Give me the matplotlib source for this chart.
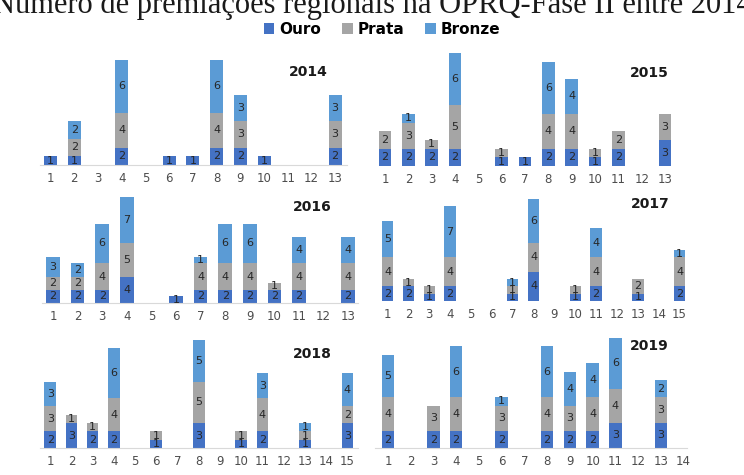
import numpy as np
import matplotlib.pyplot as plt

# Dados (Ouro, Prata, Bronze por região)
anos = ['2014', '2015', '2016', '2017', '2018', '2019']
n_regioes = [13, 13, 13, 15, 15, 14]

ouro_2014 = [1, 1, 0, 2, 0, 1, 1, 2, 2, 1, 0, 0, 2]
prata_2014 = [0, 2, 0, 4, 0, 0, 0, 4, 3, 0, 0, 0, 3]
bronze_2014 = [0, 2, 0, 6, 0, 0, 0, 6, 3, 0, 0, 0, 3]

ouro_2015 = [2, 2, 2, 2, 0, 1, 1, 2, 2, 1, 2, 0, 3]
prata_2015 = [2, 3, 1, 5, 0, 1, 0, 4, 4, 1, 2, 0, 3]
bronze_2015 = [0, 1, 0, 6, 0, 0, 0, 6, 4, 0, 0, 0, 0]

ouro_2016 = [2, 2, 2, 4, 0, 1, 2, 2, 2, 2, 2, 0, 2]
prata_2016 = [2, 2, 4, 5, 0, 0, 4, 4, 4, 1, 4, 0, 4]
bronze_2016 = [3, 2, 6, 7, 0, 0, 1, 6, 6, 0, 4, 0, 4]

ouro_2017 = [2, 2, 1, 2, 0, 0, 1, 4, 0, 1, 2, 0, 1, 0, 2]
prata_2017 = [4, 1, 1, 4, 0, 0, 1, 4, 0, 1, 4, 0, 2, 0, 4]
bronze_2017 = [5, 0, 0, 7, 0, 0, 1, 6, 0, 0, 4, 0, 0, 0, 1]

ouro_2018 = [2, 3, 2, 2, 0, 1, 0, 3, 0, 1, 2, 0, 1, 0, 3]
prata_2018 = [3, 1, 1, 4, 0, 1, 0, 5, 0, 1, 4, 0, 1, 0, 2]
bronze_2018 = [3, 0, 0, 6, 0, 0, 0, 5, 0, 0, 3, 0, 1, 0, 4]

ouro_2019 = [2, 0, 2, 2, 0, 2, 0, 2, 2, 2, 3, 0, 3, 0]
prata_2019 = [4, 0, 3, 4, 0, 3, 0, 4, 3, 4, 4, 0, 3, 0]
bronze_2019 = [5, 0, 0, 6, 0, 1, 0, 6, 4, 4, 6, 0, 2, 0]

ouro = [ouro_2014, ouro_2015, ouro_2016, ouro_2017, ouro_2018, ouro_2019]
prata = [prata_2014, prata_2015, prata_2016, prata_2017, prata_2018, prata_2019]
bronze = [bronze_2014, bronze_2015, bronze_2016, bronze_2017, bronze_2018, bronze_2019]

cores = {'Ouro': '#4472C4', 'Prata': '#A5A5A5', 'Bronze': '#5B9BD5'}

W, H = 744, 475
fig = plt.figure(figsize=(W / 100, H / 100), dpi=100)

# posição de cada painel em pixels: esquerda, direita, base, topo, ymax, xlim, linha do eixo
paineis = [
    (40, 347, 165, 60, 12, (0.55, 13.5), True),
    (372, 700, 166, 53, 13, (0.44, 14.5), False),
    (42, 358, 303, 197, 16, (0.55, 13.4), True),
    (375, 690, 301, 199, 14, (0.40, 15.5), False),
    (40, 358, 448, 340, 13, (0.52, 15.5), True),
    (375, 687, 448, 338, 13, (0.43, 14.15), True),
]
pos_ano = [(308, 72), (649, 73), (312, 207), (650, 204), (312, 354), (649, 346)]

for i, ano in enumerate(anos):
    esq, dir_, base, topo, ymax, xl, linha = paineis[i]
    ax = fig.add_axes([esq / W, 1 - base / H, (dir_ - esq) / W, (base - topo) / H])
    x = np.arange(1, n_regioes[i] + 1)
    o = np.array(ouro[i])
    p = np.array(prata[i])
    b = np.array(bronze[i])
    largura = 0.55
    c1 = ax.bar(x, o, largura, color=cores['Ouro'], label='Ouro')
    c2 = ax.bar(x, p, largura, bottom=o, color=cores['Prata'], label='Prata')
    c3 = ax.bar(x, b, largura, bottom=o + p, color=cores['Bronze'], label='Bronze')
    for c, v in ((c1, o), (c2, p), (c3, b)):
        ax.bar_label(c, labels=[str(k) if k > 0 else '' for k in v],
                     label_type='center', fontsize=8, color='#262626')
    ax.set_xlim(*xl)
    ax.set_ylim(0, ymax)
    ax.set_xticks(x)
    ax.set_xticklabels([str(k) for k in x])
    ax.tick_params(axis='x', length=0, pad=5, labelsize=8.5, colors='#4d4d4d')
    ax.set_yticks([])
    for s in ('top', 'right', 'left'):
        ax.spines[s].set_visible(False)
    if linha:
        ax.spines['bottom'].set_color('#D9D9D9')
    else:
        ax.spines['bottom'].set_visible(False)
    ax.patch.set_alpha(0)
    fig.text(pos_ano[i][0] / W, 1 - pos_ano[i][1] / H, ano, ha='center', va='center',
             fontsize=10, fontweight='bold', color='#1a1a1a')

# título (cortado nas bordas como no original)
fig.text(0.5, 1 - 13 / H, 'Número de premiações regionais na OPRQ-Fase II entre 2014',
         ha='center', va='baseline', fontsize=22, family='Liberation Serif', color='#1a1a1a')

# legenda
fig.legend(handles=[c1, c2, c3], labels=['Ouro', 'Prata', 'Bronze'],
           loc='center', bbox_to_anchor=(382 / W, 1 - 29 / H), ncol=3, frameon=False,
           handlelength=0.7, handleheight=0.7, handletextpad=0.3, columnspacing=1.4,
           prop={'weight': 'bold', 'size': 11, 'family': ['Liberation Sans Narrow', 'DejaVu Sans']})

fig.savefig('out.png', dpi=100)
